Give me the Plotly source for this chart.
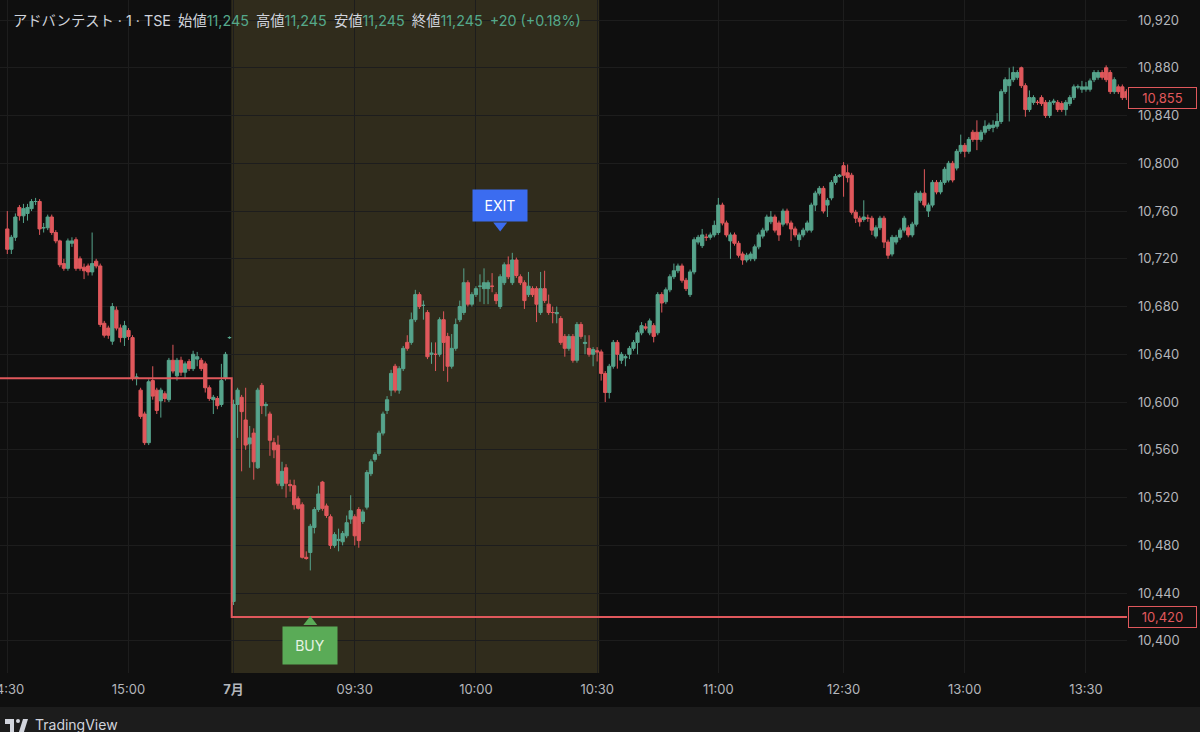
import plotly.graph_objects as go

# ---------------- data (1-minute bars) ----------------
open_ = [
    10745,10728,10738,10763,10756,10758,10762,10768,10768,10746,
    10746,10755,10742,10735,10716,10712,10733,10736,10720,10713,
    10714,10709,10718,10714,10666,10662,10651,10677,10662,10654,
    10660,10654,10620,10610,10590,10566,10618,10610,10601,10607,
    10602,10635,10622,10635,10625,10634,10628,10636,10635,10632,
    10612,10602,10603,10598,10620,10654,10433,10598,10604,10585,
    10565,10574,10545,10614,10597,10590,10566,10564,10530,10545,
    10531,10530,10519,10514,10470,10474,10495,10510,10533,10513,
    10504,10480,10484,10483,10488,10502,10504,10510,10500,10512,
    10540,10552,10557,10574,10593,10610,10630,10610,10628,10650,
    10650,10669,10690,10681,10675,10640,10640,10640,10669,10655,
    10630,10645,10669,10675,10700,10682,10690,10697,10695,10695,
    10697,10690,10680,10700,10715,10700,10719,10705,10700,10690,
    10695,10695,10675,10695,10682,10675,10674,10670,10655,10645,
    10655,10635,10665,10649,10645,10640,10643,10642,10624,10608,
    10630,10650,10635,10637,10640,10645,10650,10658,10663,10658,
    10664,10658,10690,10684,10694,10705,10710,10714,10702,10690,
    10709,10734,10731,10738,10738,10740,10742,10765,10750,10735,
    10740,10733,10724,10719,10720,10720,10730,10739,10744,10751,
    10755,10750,10749,10760,10750,10745,10736,10740,10744,10744,
    10765,10775,10779,10765,10771,10784,10789,10798,10792,10790,
    10759,10754,10753,10754,10754,10739,10746,10754,10734,10724,
    10734,10738,10744,10746,10740,10749,10769,10775,10760,10765,
    10784,10776,10784,10786,10800,10796,10810,10815,10810,10826,
    10826,10820,10826,10829,10830,10831,10835,10860,10865,10870,
    10872,10880,10865,10845,10851,10851,10855,10851,10840,10851,
    10851,10850,10845,10850,10855,10864,10862,10862,10862,10870,
    10872,10876,10880,10876,10860,10864,10864,10860,
]
high = [
    10760,10740,10758,10765,10766,10766,10770,10771,10770,10750,
    10757,10757,10744,10736,10720,10737,10738,10738,10722,10716,
    10716,10742,10720,10716,10668,10664,10683,10680,10665,10668,
    10662,10656,10624,10612,10592,10619,10630,10612,10612,10609,
    10637,10648,10637,10638,10634,10636,10643,10642,10637,10634,
    10614,10606,10605,10632,10642,10655,10602,10612,10606,10612,
    10580,10578,10612,10616,10600,10592,10570,10572,10550,10548,
    10535,10535,10521,10516,10475,10498,10512,10530,10534,10515,
    10506,10491,10494,10492,10505,10522,10506,10512,10510,10543,
    10552,10558,10576,10592,10605,10627,10632,10630,10647,10656,
    10675,10694,10692,10685,10677,10650,10650,10671,10676,10658,
    10657,10670,10685,10712,10702,10692,10697,10707,10712,10702,
    10708,10692,10707,10717,10722,10725,10721,10707,10702,10709,
    10697,10697,10709,10710,10690,10680,10680,10672,10657,10657,
    10657,10667,10667,10656,10656,10646,10646,10644,10626,10632,
    10652,10652,10642,10640,10647,10652,10660,10667,10666,10670,
    10666,10692,10692,10696,10707,10716,10716,10716,10704,10711,
    10738,10740,10745,10741,10742,10752,10771,10767,10752,10742,
    10742,10735,10726,10725,10726,10732,10742,10746,10757,10760,
    10757,10752,10762,10762,10752,10747,10742,10746,10752,10767,
    10777,10781,10781,10771,10786,10791,10791,10801,10799,10792,
    10761,10756,10769,10757,10756,10748,10756,10756,10736,10740,
    10740,10746,10756,10748,10751,10777,10777,10795,10767,10786,
    10786,10786,10797,10802,10802,10812,10824,10817,10822,10828,
    10836,10828,10836,10834,10836,10842,10862,10872,10880,10881,
    10878,10881,10867,10861,10857,10853,10857,10853,10853,10854,
    10853,10852,10853,10857,10866,10866,10869,10868,10871,10878,
    10878,10878,10882,10878,10872,10866,10866,10862,
]
low = [
    10724,10724,10735,10752,10750,10752,10760,10765,10740,10742,
    10744,10740,10733,10713,10710,10710,10730,10710,10710,10703,
    10706,10706,10712,10663,10654,10653,10648,10660,10650,10647,
    10652,10618,10614,10586,10564,10564,10602,10590,10587,10600,
    10600,10624,10618,10622,10620,10626,10626,10630,10626,10608,
    10601,10590,10594,10596,10618,10653,10430,10570,10542,10560,
    10545,10535,10544,10590,10588,10555,10553,10530,10527,10520,
    10525,10510,10510,10469,10468,10459,10490,10508,10509,10503,
    10477,10478,10475,10480,10486,10498,10480,10478,10498,10510,
    10538,10550,10555,10572,10590,10605,10608,10607,10626,10643,
    10648,10667,10678,10669,10636,10632,10626,10638,10626,10617,
    10628,10643,10667,10673,10680,10680,10688,10684,10682,10682,
    10692,10682,10678,10698,10703,10698,10704,10698,10678,10688,
    10688,10667,10673,10683,10673,10666,10666,10648,10638,10643,
    10633,10633,10653,10640,10638,10630,10634,10618,10600,10603,
    10628,10628,10632,10630,10636,10643,10640,10656,10660,10656,
    10650,10656,10675,10682,10692,10703,10708,10700,10693,10688,
    10707,10732,10729,10735,10736,10738,10740,10748,10738,10720,
    10731,10721,10715,10717,10718,10718,10728,10737,10742,10749,
    10742,10735,10747,10748,10735,10738,10730,10738,10742,10742,
    10760,10773,10758,10755,10769,10782,10788,10772,10784,10757,
    10750,10747,10751,10751,10740,10737,10744,10729,10720,10722,
    10732,10736,10742,10738,10738,10747,10767,10763,10755,10763,
    10774,10774,10782,10784,10784,10794,10808,10805,10808,10818,
    10811,10818,10824,10827,10826,10829,10833,10858,10835,10868,
    10870,10863,10839,10843,10849,10849,10848,10838,10838,10849,
    10843,10843,10840,10848,10853,10862,10859,10860,10860,10868,
    10870,10870,10868,10858,10858,10858,10853,10853,
]
close = [
    10728,10738,10755,10756,10762,10763,10768,10768,10745,10746,
    10755,10742,10735,10715,10712,10735,10735,10712,10712,10710,
    10709,10716,10714,10665,10656,10656,10680,10662,10654,10664,
    10655,10620,10621,10588,10566,10617,10605,10593,10610,10603,
    10635,10626,10635,10625,10632,10628,10640,10638,10628,10612,
    10603,10604,10597,10618,10640,10654,10598,10610,10592,10564,
    10570,10550,10610,10597,10598,10568,10560,10532,10542,10532,
    10530,10514,10511,10470,10469,10496,10510,10523,10511,10505,
    10480,10489,10485,10490,10499,10509,10488,10484,10508,10541,
    10550,10556,10574,10590,10602,10624,10610,10628,10645,10645,
    10669,10690,10680,10681,10638,10641,10640,10669,10650,10630,
    10645,10665,10680,10700,10682,10690,10695,10697,10700,10700,
    10697,10685,10705,10715,10705,10719,10706,10700,10685,10697,
    10690,10682,10695,10685,10675,10675,10675,10650,10645,10655,
    10635,10665,10655,10650,10640,10644,10642,10624,10608,10630,
    10650,10640,10640,10638,10645,10650,10658,10664,10662,10668,
    10655,10690,10683,10694,10705,10710,10714,10702,10695,10709,
    10736,10738,10740,10738,10740,10748,10765,10750,10740,10740,
    10733,10723,10719,10723,10724,10730,10740,10744,10755,10755,
    10744,10740,10760,10750,10745,10740,10740,10744,10750,10765,
    10775,10779,10760,10769,10784,10789,10790,10790,10788,10759,
    10754,10751,10755,10754,10744,10746,10754,10734,10723,10738,
    10738,10744,10754,10740,10749,10775,10775,10765,10765,10784,
    10776,10784,10795,10800,10786,10810,10815,10810,10820,10820,
    10820,10826,10831,10832,10832,10835,10860,10870,10870,10876,
    10876,10865,10845,10855,10855,10851,10850,10840,10851,10852,
    10845,10845,10851,10855,10864,10864,10864,10864,10869,10876,
    10876,10872,10870,10860,10870,10860,10855,10855,
]
bar_index = list(range(len(close)))

tick_index = [0, 30, 56, 86, 116, 146, 176, 207, 237, 267]
tick_text = ["14:30", "15:00", "<b>7月</b>", "09:30", "10:00", "10:30",
             "11:00", "12:30", "13:00", "13:30"]

prev_level = 10620          # red level line before the session break
entry_level = 10420         # red level line after entry
level_break_index = 55.55
highlight_range = [55.45, 146.5]
buy_index = 75
exit_index = 122
last_price = 10855

header_labels = ["始値", "高値", "安値", "終値"]
header_values = ["11,245", "11,245", "11,245", "11,245"]
header_symbol = "アドバンテスト · 1 · TSE"
header_change = "+20 (+0.18%)"

# ---------------- styling ----------------
BG = "#0f0f0f"
GRID = "#1d1d1d"
UP = "#56a48c"
DN = "#e0585c"
TXT = "#b4b6bb"
LBL = "#d1d4dc"
VAL = "#55a98b"
FONT = "Inter, 'Noto Sans CJK JP', sans-serif"

Y_TOP, Y_BOT = 10936.75, 10373.1
PLOT_W, PLOT_H = 1127, 673
PPU = (Y_TOP - Y_BOT) / PLOT_H   # price units per pixel

def py(pix):                      # pixel row -> price
    return Y_TOP - pix * PPU

def paper_y(pix):
    return (PLOT_H - pix) / PLOT_H

def paper_x(pix):
    return pix / PLOT_W

fig = go.Figure()

fig.add_trace(go.Candlestick(
    x=bar_index, open=open_, high=high, low=low, close=close,
    increasing=dict(line=dict(color=UP, width=1), fillcolor=UP),
    decreasing=dict(line=dict(color=DN, width=1), fillcolor=DN),
    whiskerwidth=0, hoverinfo="skip", showlegend=False,
))

fig.add_trace(go.Scatter(
    x=[-5, level_break_index, level_break_index, len(close) + 5],
    y=[prev_level, prev_level, entry_level, entry_level],
    mode="lines", line=dict(color=DN, width=2),
    hoverinfo="skip", showlegend=False,
))

EXIT_COL = "#3b6cf0"
BUY_COL = "#5aab57"
fig.add_trace(go.Scatter(
    x=[exit_index], y=[py(225.5)], mode="markers",
    marker=dict(symbol="triangle-down", size=12, color=EXIT_COL),
    hoverinfo="skip", showlegend=False,
))
fig.add_trace(go.Scatter(
    x=[buy_index], y=[py(622)], mode="markers",
    marker=dict(symbol="triangle-up", size=12, color=BUY_COL),
    hoverinfo="skip", showlegend=False,
))

shapes = [
    dict(type="rect", xref="x", yref="paper", x0=highlight_range[0], x1=highlight_range[1],
         y0=0, y1=1, fillcolor="#302c1c", line=dict(width=0), layer="below"),
    dict(type="rect", xref="paper", yref="paper", x0=-0.01, x1=1.1,
         y0=paper_y(707), y1=paper_y(745), fillcolor="#1c1c1c", line=dict(width=0), layer="below"),
    # TradingView logo (approximation)
    dict(type="rect", xref="paper", yref="paper", x0=paper_x(5), x1=paper_x(14),
         y0=paper_y(719), y1=paper_y(724), fillcolor=LBL, line=dict(width=0)),
    dict(type="rect", xref="paper", yref="paper", x0=paper_x(10), x1=paper_x(14),
         y0=paper_y(719), y1=paper_y(735), fillcolor=LBL, line=dict(width=0)),
    dict(type="circle", xref="paper", yref="paper", x0=paper_x(16), x1=paper_x(20),
         y0=paper_y(719), y1=paper_y(723), fillcolor=LBL, line=dict(width=0)),
    dict(type="path", xref="paper", yref="paper",
         path=f"M {paper_x(23)} {paper_y(719)} L {paper_x(28)} {paper_y(719)} "
              f"L {paper_x(23)} {paper_y(735)} L {paper_x(18)} {paper_y(735)} Z",
         fillcolor=LBL, line=dict(width=0)),
]

header = f"<span style='color:{LBL}'>{header_symbol}</span>"
for lab, val in zip(header_labels, header_values):
    header += f"\u2002<span style='color:{LBL}'>{lab}</span><span style='color:{VAL}'>{val}</span>"
header += f"\u2002<span style='color:{VAL}'>{header_change}</span>"

annotations = [
    dict(text=header, xref="paper", yref="paper", x=paper_x(11), y=paper_y(20),
         xanchor="left", yanchor="middle", showarrow=False,
         font=dict(family=FONT, size=14.3, color=LBL)),
    dict(text="EXIT", xref="x", yref="y", x=exit_index, y=py(222),
         xanchor="center", yanchor="bottom", showarrow=False,
         bgcolor=EXIT_COL, borderpad=7, width=40,
         font=dict(family=FONT, size=14, color="#ffffff")),
    dict(text="BUY", xref="x", yref="y", x=buy_index, y=py(626),
         xanchor="center", yanchor="top", showarrow=False,
         bgcolor=BUY_COL, borderpad=10, width=34,
         font=dict(family=FONT, size=14, color="#e6f3e4")),
    dict(text=f"{last_price:,}", xref="paper", yref="y", x=paper_x(1127.5), y=last_price,
         xanchor="left", yanchor="middle", showarrow=False,
         bgcolor=BG, bordercolor=DN, borderwidth=1, borderpad=2, width=63,
         font=dict(family=FONT, size=13, color=DN)),
    dict(text=f"{entry_level:,}", xref="paper", yref="y", x=paper_x(1127.5), y=entry_level,
         xanchor="left", yanchor="middle", showarrow=False,
         bgcolor=BG, bordercolor=DN, borderwidth=1, borderpad=2, width=63,
         font=dict(family=FONT, size=13, color=DN)),
    dict(text="TradingView", xref="paper", yref="paper", x=paper_x(33), y=paper_y(724),
         xanchor="left", yanchor="middle", showarrow=False,
         font=dict(family=FONT, size=14, color=LBL)),
]

x_left = -7.3 / 4.04
x_right = x_left + PLOT_W / 4.04

fig.update_layout(
    width=1200, height=732,
    margin=dict(l=0, r=1200 - PLOT_W, t=0, b=732 - PLOT_H, autoexpand=False),
    paper_bgcolor=BG, plot_bgcolor=BG,
    boxgap=0.2, boxgroupgap=0,
    shapes=shapes, annotations=annotations,
    showlegend=False,
    font=dict(family=FONT, color=TXT),
    xaxis=dict(
        range=[x_left, x_right], tickmode="array", tickvals=tick_index, ticktext=tick_text,
        showgrid=True, gridcolor=GRID, gridwidth=1, zeroline=False, showline=False,
        ticks="", tickfont=dict(family=FONT, size=13, color=TXT),
        rangeslider=dict(visible=False), ticklabelstandoff=7, fixedrange=True,
        ticklabeloverflow="allow", automargin=False,
    ),
    yaxis=dict(
        side="right", range=[Y_BOT, Y_TOP], tick0=10400, dtick=40, tickformat=",d",
        showgrid=True, gridcolor=GRID, gridwidth=1, zeroline=False, showline=False,
        ticks="", tickfont=dict(family=FONT, size=13, color=TXT),
        ticklabelstandoff=10, fixedrange=True, automargin=False,
    ),
)

fig.write_html(
    "out.html",
    config={"displayModeBar": False},
    post_script="document.body.style.margin='0';document.body.style.overflow='hidden';"
                "document.body.style.background='#0f0f0f';",
)
